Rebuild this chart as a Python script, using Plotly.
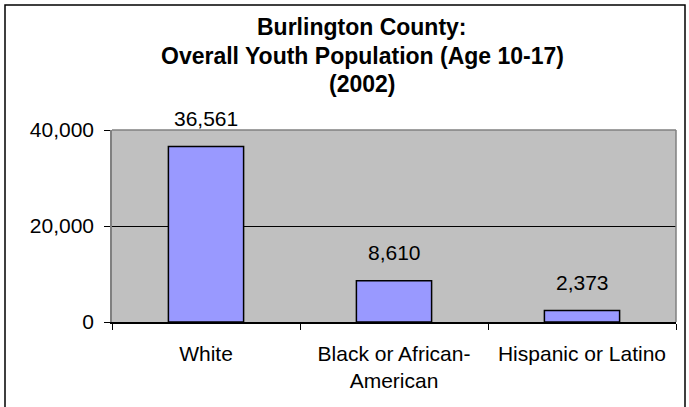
import plotly.graph_objects as go

categories = ["White", "Black or African-<br>American", "Hispanic or Latino"]
values = [36561, 8610, 2373]
y_ticks = [0, 20000, 40000]
title_lines = ["Burlington County:", "Overall Youth Population (Age 10-17)", "(2002)"]

W, H = 689, 407
L, R, T, B = 112, 13, 130, 85
pw, ph = W - L - R, H - T - B

def px_x(px):
    return (px - L) / pw

def px_y(py):
    return (H - B - py) / ph

FONT = "Liberation Sans, Arial, sans-serif"

fig = go.Figure()
fig.add_trace(go.Bar(
    x=categories, y=values,
    marker=dict(color="#9999FF", line=dict(color="black", width=1.5)),
    hoverinfo="skip",
))

for c, v in zip(categories, values):
    fig.add_annotation(x=c, y=v, text=f"{v:,}", showarrow=False,
                       yanchor="middle", yshift=28,
                       font=dict(family=FONT, size=21, color="black"))

for line, py in zip(title_lines, [27, 56, 84]):
    fig.add_annotation(x=px_x(362), y=px_y(py), xref="paper", yref="paper",
                       text=f"<b>{line}</b>",
                       showarrow=False, xanchor="center", yanchor="middle",
                       font=dict(family=FONT, size=23, color="black"))

# plot area border (top/right gray)
fig.add_shape(type="line", xref="paper", yref="paper", x0=0, x1=1, y0=1, y1=1,
              line=dict(color="#808080", width=1.5), layer="above")
fig.add_shape(type="line", xref="paper", yref="paper", x0=1, x1=1, y0=0, y1=1,
              line=dict(color="#808080", width=1.5), layer="above")
# outer frame
fig.add_shape(type="rect", xref="paper", yref="paper",
              x0=px_x(5), x1=px_x(685), y0=px_y(412), y1=px_y(5),
              line=dict(color="black", width=1.5), layer="above")

fig.update_layout(
    width=W, height=H,
    margin=dict(l=L, r=R, t=T, b=B, pad=0),
    paper_bgcolor="white", plot_bgcolor="#C0C0C0",
    bargap=0.6, showlegend=False,
    font=dict(family=FONT, size=21, color="black"),
)
fig.update_xaxes(
    type="category", tickson="boundaries", ticks="outside", ticklen=6,
    tickcolor="black", showline=True, linecolor="black", linewidth=1.5,
    showgrid=False, ticklabelstandoff=12,
    tickfont=dict(family=FONT, size=21, color="black"),
)
fig.update_yaxes(
    range=[0, 40000], tickvals=y_ticks, tickformat=",d",
    ticks="outside", ticklen=6, tickcolor="black",
    showline=True, linecolor="#808080", linewidth=1.5,
    showgrid=True, gridcolor="black", gridwidth=1, zeroline=False,
    ticklabelstandoff=6,
    tickfont=dict(family=FONT, size=21, color="black"),
)

fig.write_html("out.html", config={"displayModeBar": False},
               post_script="document.body.style.margin='0';document.body.style.overflow='hidden';")
